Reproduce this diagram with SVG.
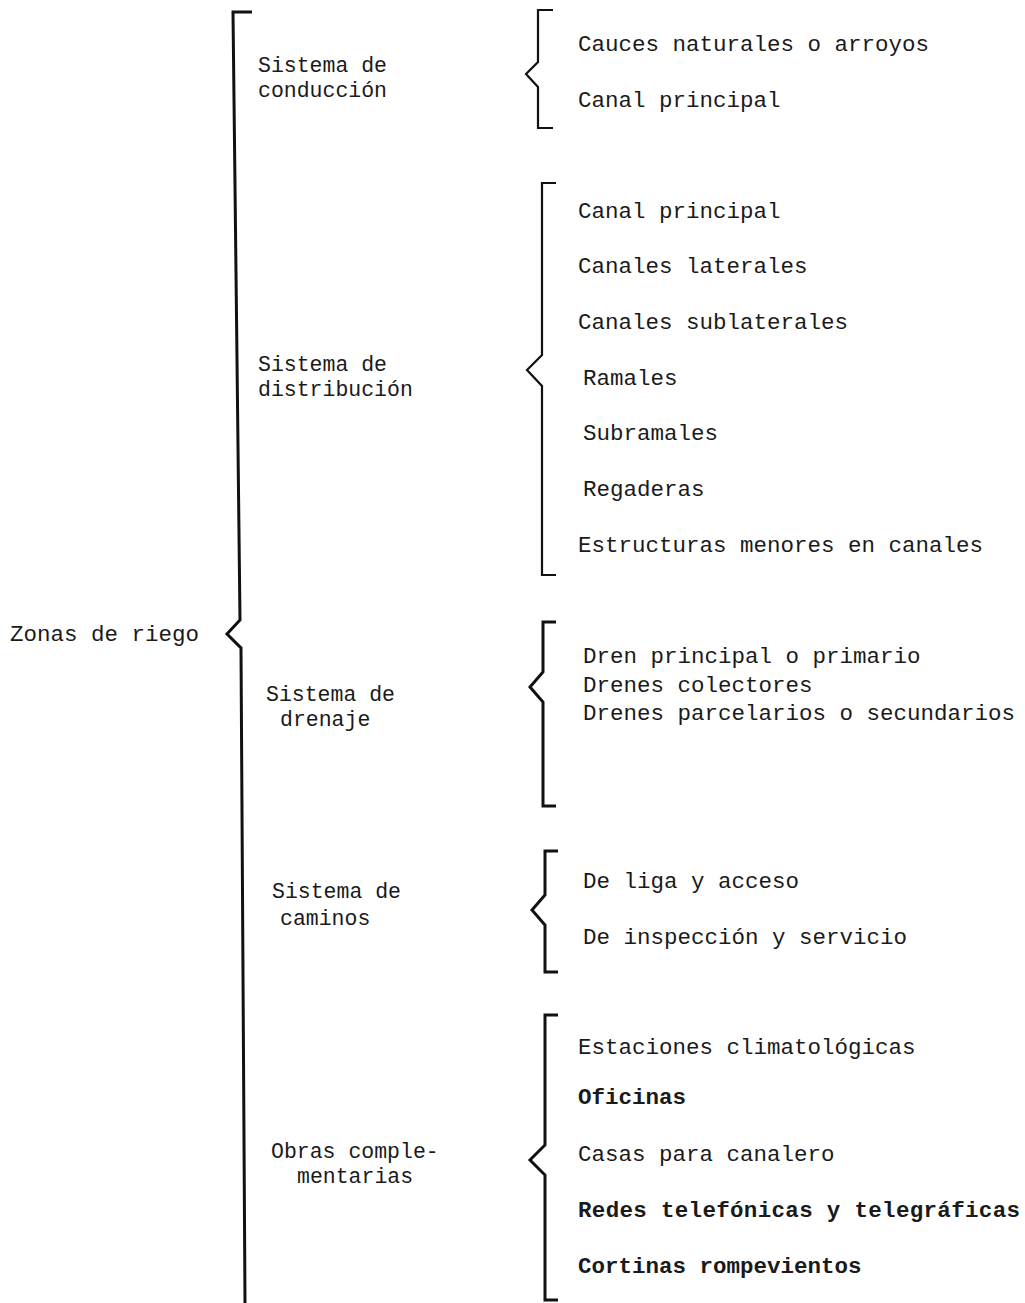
<svg xmlns="http://www.w3.org/2000/svg" width="1025" height="1303" viewBox="0 0 1025 1303">
<style>
text { font-family: "Liberation Mono", "DejaVu Sans Mono", monospace; font-size: 22.5px; fill: #1a1a1a; }
.lbl { font-size: 21.5px; }
.b { font-weight: bold; }
.brace { fill: none; stroke: #111; stroke-width: 2.2; stroke-linejoin: miter; }
.thick { stroke-width: 3; }
</style>
<rect width="1025" height="1303" fill="#fff"/>
<g id="connectors">
  <path id="brace-main" class="brace thick" d="M252,12 H233 L240,620 L227,634 L241,648 L245,1303"/>
  <path id="brace-conduccion" class="brace" d="M553,10 H538 V62 L526,74 L538,87 V128 H553"/>
  <path id="brace-distribucion" class="brace" d="M556,183 H542 V355 L527,370 L542,386 V575 H556"/>
  <path id="brace-drenaje" class="brace thick" d="M556,622 H543 V672 L530,687 L543,702 V806 H556"/>
  <path id="brace-caminos" class="brace thick" d="M558,851 H545 V895 L532,910 L545,925 V972 H558"/>
  <path id="brace-obras" class="brace thick" d="M558,1015 H545 V1145 L530,1160 L545,1175 V1300 H558"/>
</g>
<g id="node-zonas"><text x="10" y="641">Zonas de riego</text></g>
<g id="node-conduccion" class="lbl"><text class="lbl" x="258" y="72">Sistema de</text><text class="lbl" x="258" y="97">conducción</text></g>
<g id="node-distribucion"><text class="lbl" x="258" y="371">Sistema de</text><text class="lbl" x="258" y="396">distribución</text></g>
<g id="node-drenaje"><text class="lbl" x="266" y="701">Sistema de</text><text class="lbl" x="280" y="726">drenaje</text></g>
<g id="node-caminos"><text class="lbl" x="272" y="898">Sistema de</text><text class="lbl" x="280" y="925">caminos</text></g>
<g id="node-obras"><text class="lbl" x="271" y="1158">Obras comple-</text><text class="lbl" x="297" y="1183">mentarias</text></g>
<g id="items-conduccion">
  <text x="578" y="51">Cauces naturales o arroyos</text>
  <text x="578" y="107">Canal principal</text>
</g>
<g id="items-distribucion">
  <text x="578" y="218">Canal principal</text>
  <text x="578" y="273">Canales laterales</text>
  <text x="578" y="329">Canales sublaterales</text>
  <text x="583" y="385">Ramales</text>
  <text x="583" y="440">Subramales</text>
  <text x="583" y="496">Regaderas</text>
  <text x="578" y="552">Estructuras menores en canales</text>
</g>
<g id="items-drenaje">
  <text x="583" y="663">Dren principal o primario</text>
  <text x="583" y="692">Drenes colectores</text>
  <text x="583" y="720">Drenes parcelarios o secundarios</text>
</g>
<g id="items-caminos">
  <text x="583" y="888">De liga y acceso</text>
  <text x="583" y="944">De inspección y servicio</text>
</g>
<g id="items-obras">
  <text x="578" y="1054">Estaciones climatológicas</text>
  <text class="b" x="578" y="1104">Oficinas</text>
  <text x="578" y="1161">Casas para canalero</text>
  <text class="b" x="578" y="1217" textLength="442">Redes telefónicas y telegráficas</text>
  <text class="b" x="578" y="1273">Cortinas rompevientos</text>
</g>
</svg>
